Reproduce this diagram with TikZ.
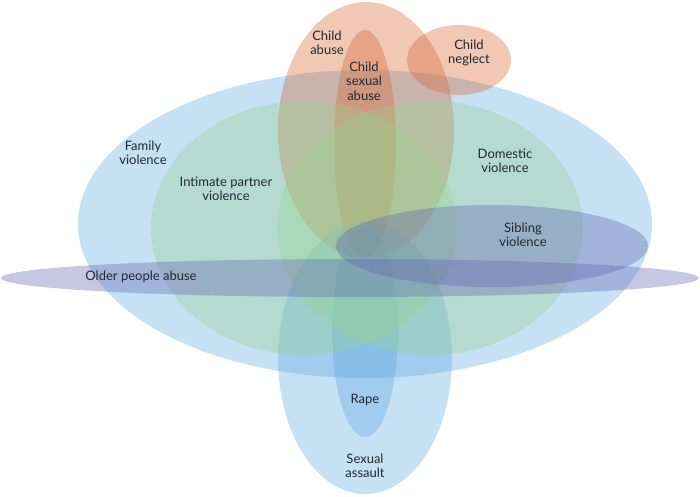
\documentclass[tikz,border=0pt]{standalone}
\usepackage{fontspec}
\setmainfont{Lato}
\definecolor{famblue}{RGB}{92,166,224}
\definecolor{ipvgreen}{RGB}{149,212,141}
\definecolor{childorange}{RGB}{212,98,41}
\definecolor{oldlav}{RGB}{95,95,175}
\definecolor{labelgray}{RGB}{34,40,48}
\tikzset{
  {area/.style} ={fill=#1,fill opacity=.35},
  {label text/.style} ={text=labelgray,align=center,inner sep=0,
                        font=\fontsize{13}{14.5}\selectfont},
}

\begin{document}
\begin{tikzpicture}[x=1pt,y=-1pt]
\useasboundingbox (0,0) rectangle (700,496);
\fill[area=famblue] (365,224) ellipse (287 and 154);
\fill[area=childorange] (366,130) ellipse (88 and 128);
\fill[area=childorange] (365,144) ellipse (31 and 114);
\fill[area=childorange] (459,60) ellipse (52 and 35);
\fill[area=famblue] (365,358) ellipse (87 and 136);
\fill[area=famblue] (365,331) ellipse (33 and 106);
\fill[area=ipvgreen] (304,228) ellipse (153 and 127);
\fill[area=ipvgreen] (430,228) ellipse (153 and 127);
\fill[area=oldlav] (492,246) ellipse (156 and 41);
\fill[area=oldlav] (350,278) ellipse (349 and 19);

\node[label text] (fam) at (143,153) {Family\\violence};
\node[label text] (ipv) at (226,189) {Intimate partner\\violence};
\node[label text] (dom) at (505,161) {Domestic\\violence};
\node[label text] (ca) at (327,43) {Child\\abuse};
\node[label text] (csa) at (364,81) {Child\\sexual\\abuse};
\node[label text] (cn) at (469,53) {Child\\neglect};
\node[label text] (sib) at (523,235) {Sibling\\violence};
\node[label text] (old) at (141,277) {Older people abuse};
\node[label text] (rape) at (365,400) {Rape};
\node[label text] (sa) at (365,466) {Sexual\\assault};
\end{tikzpicture}
\end{document}
